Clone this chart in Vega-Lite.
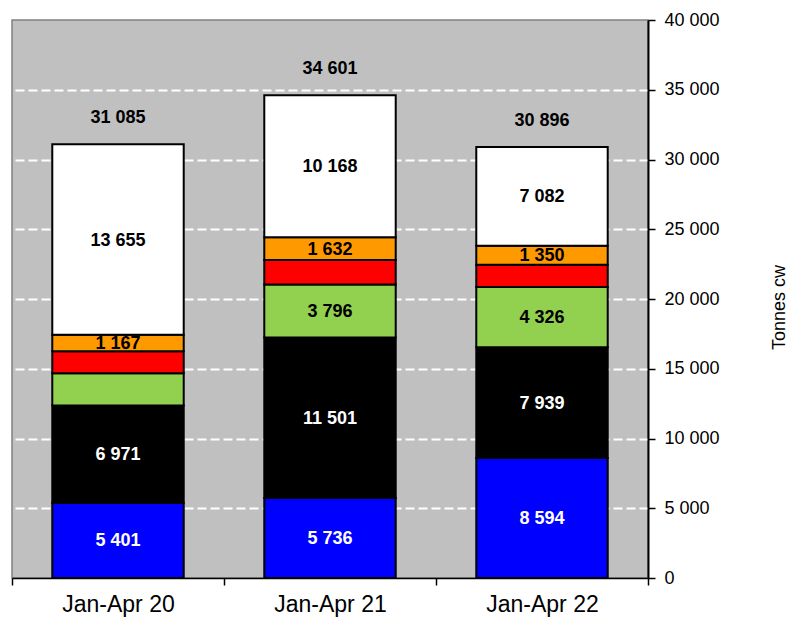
{
  "$schema": "https://vega.github.io/schema/vega-lite/v6.json",
  "width": 636,
  "height": 558,
  "autosize": {"type": "none"},
  "padding": {"left": 12, "top": 20, "right": 140, "bottom": 42},
  "background": "white",
  "config": {
    "locale": {"number": {"decimal": ".", "thousands": " ", "grouping": [3], "currency": ["", ""]}},
    "view": {"fill": "#C0C0C0", "stroke": "#808080", "strokeWidth": 1.5},
    "font": "Liberation Sans"
  },
  "data": {
    "values": [
      {"period": "Jan-Apr 20", "series": "blue", "value": 5401},
      {"period": "Jan-Apr 20", "series": "black", "value": 6971},
      {"period": "Jan-Apr 20", "series": "green", "value": 2300},
      {"period": "Jan-Apr 20", "series": "red", "value": 1591},
      {"period": "Jan-Apr 20", "series": "orange", "value": 1167},
      {"period": "Jan-Apr 20", "series": "white", "value": 13655},
      {"period": "Jan-Apr 21", "series": "blue", "value": 5736},
      {"period": "Jan-Apr 21", "series": "black", "value": 11501},
      {"period": "Jan-Apr 21", "series": "green", "value": 3796},
      {"period": "Jan-Apr 21", "series": "red", "value": 1768},
      {"period": "Jan-Apr 21", "series": "orange", "value": 1632},
      {"period": "Jan-Apr 21", "series": "white", "value": 10168},
      {"period": "Jan-Apr 22", "series": "blue", "value": 8594},
      {"period": "Jan-Apr 22", "series": "black", "value": 7939},
      {"period": "Jan-Apr 22", "series": "green", "value": 4326},
      {"period": "Jan-Apr 22", "series": "red", "value": 1605},
      {"period": "Jan-Apr 22", "series": "orange", "value": 1350},
      {"period": "Jan-Apr 22", "series": "white", "value": 7082}
    ]
  },
  "transform": [
    {"calculate": "indexof(['blue','black','green','red','orange','white'], datum.series)", "as": "ord"}
  ],
  "encoding": {
    "x": {
      "field": "period",
      "type": "nominal",
      "sort": null,
      "scale": {"paddingInner": 0, "paddingOuter": 0},
      "axis": {
        "title": null,
        "labelAngle": 0,
        "labelFontSize": 23,
        "labelColor": "black",
        "labelPadding": 8,
        "domainColor": "black",
        "domainWidth": 1.5,
        "tickColor": "black",
        "tickWidth": 1.5,
        "tickSize": 7,
        "tickBand": "extent",
        "grid": false
      }
    }
  },
  "layer": [
    {
      "mark": {"type": "bar", "stroke": "black", "strokeWidth": 2, "width": {"band": 0.62}},
      "encoding": {
        "y": {
          "field": "value",
          "type": "quantitative",
          "stack": "zero",
          "scale": {"domain": [0, 40000], "nice": false},
          "axis": {
            "orient": "right",
            "values": [0, 5000, 10000, 15000, 20000, 25000, 30000, 35000, 40000],
            "format": ",d",
            "domainColor": "black",
            "domainWidth": 2,
            "tickColor": "black",
            "tickWidth": 1.5,
            "tickSize": 7,
            "labelFontSize": 18,
            "labelColor": "black",
            "labelPadding": 9,
            "grid": true,
            "gridColor": "white",
            "gridDash": [9, 4],
            "gridWidth": 2,
            "gridOpacity": {"condition": {"test": "datum.value === 0 || datum.value === 40000", "value": 0}, "value": 1},
            "title": "Tonnes cw",
            "titleAngle": 270,
            "titleFontSize": 18,
            "titleFontWeight": "normal",
            "titleColor": "black",
            "titleX": 131,
            "titleY": 287,
            "titleAlign": "center",
            "titleBaseline": "middle"
          }
        },
        "color": {
          "field": "series",
          "type": "nominal",
          "scale": {
            "domain": ["blue", "black", "green", "red", "orange", "white"],
            "range": ["#0000FF", "#000000", "#92D050", "#FF0000", "#FF9900", "#FFFFFF"]
          },
          "legend": null
        },
        "order": {"field": "ord", "type": "quantitative"}
      }
    },
    {
      "transform": [
        {"stack": "value", "groupby": ["period"], "sort": [{"field": "ord", "order": "ascending"}], "as": ["y0", "y1"]},
        {"calculate": "(datum.y0 + datum.y1) / 2", "as": "mid"},
        {"filter": "datum.series !== 'red' && !(datum.period === 'Jan-Apr 20' && datum.series === 'green')"}
      ],
      "mark": {"type": "text", "fontSize": 18, "fontWeight": "bold", "baseline": "middle", "align": "center", "dy": 1},
      "encoding": {
        "y": {"field": "mid", "type": "quantitative"},
        "text": {"field": "value", "type": "quantitative", "format": ",d"},
        "color": {
          "condition": {"test": "datum.series === 'blue' || datum.series === 'black'", "value": "white"},
          "value": "black"
        }
      }
    },
    {
      "transform": [
        {"aggregate": [{"op": "sum", "field": "value", "as": "total"}], "groupby": ["period"]}
      ],
      "mark": {"type": "text", "fontSize": 18, "fontWeight": "bold", "baseline": "middle", "align": "center", "dy": -26, "color": "black"},
      "encoding": {
        "y": {"field": "total", "type": "quantitative"},
        "text": {"field": "total", "type": "quantitative", "format": ",d"}
      }
    }
  ]
}
